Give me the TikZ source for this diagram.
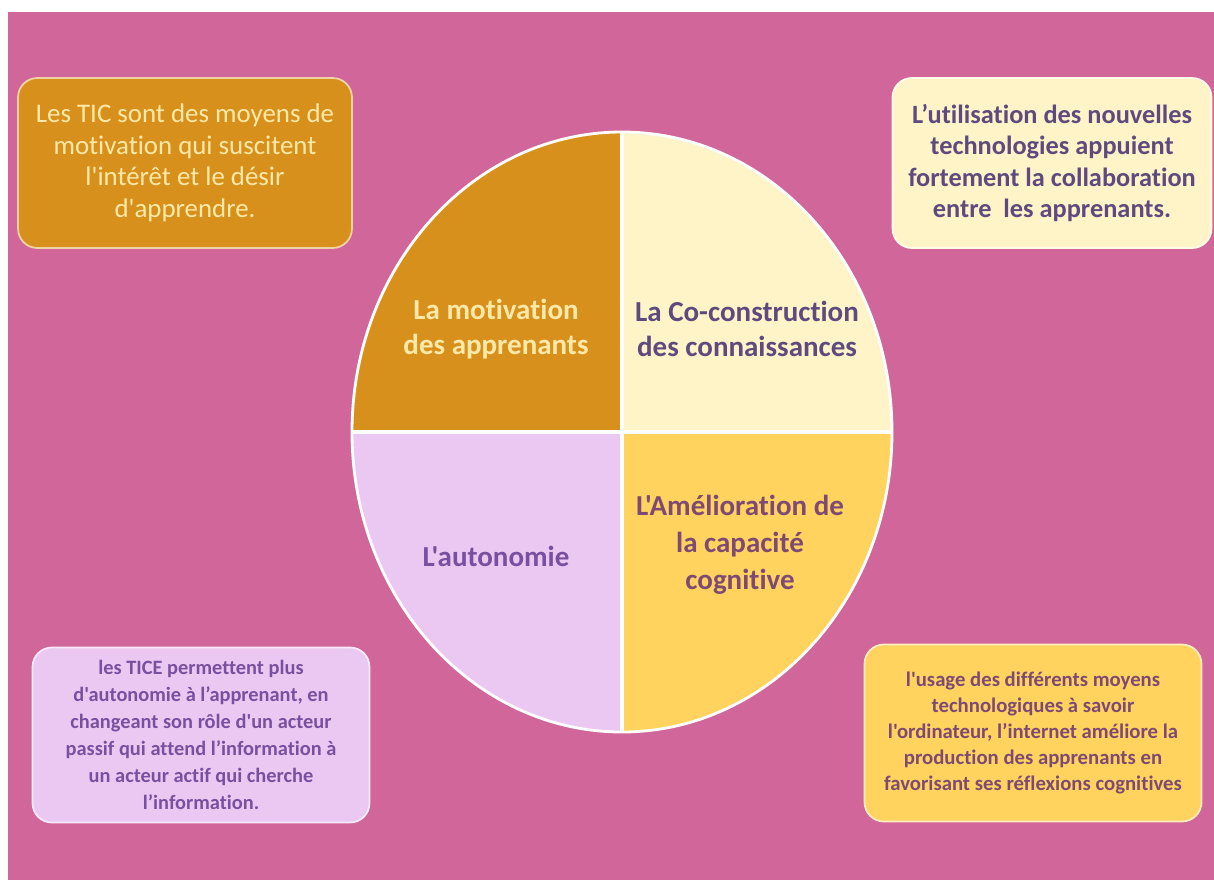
\documentclass[tikz,border=0pt]{standalone}
\usepackage{fontspec}
\setmainfont{Carlito}[Ligatures={TeXOff,CommonOff}]
\usetikzlibrary{positioning}
\definecolor{fond}{HTML}{D1669A}
\definecolor{motiv}{HTML}{D8901C}
\definecolor{creme}{HTML}{FFF4C8}
\definecolor{lilas}{HTML}{EAC8F2}
\definecolor{jaune}{HTML}{FFD35E}
\definecolor{cremetxt}{HTML}{FFE9A8}
\definecolor{violet}{HTML}{5E4A7E}
\definecolor{mauve}{HTML}{7B4FA0}
\definecolor{prune}{HTML}{7E4A74}

\begin{document}
\begin{tikzpicture}[x=0.02cm,y=-0.02cm,
		bulle/.style={rounded corners=11pt, draw=#1!40!white, line width=1pt, align=center, inner sep=4pt},
		quart/.style={align=center, font=\fontsize{16.5}{19.5}\selectfont\bfseries}]
	\useasboundingbox (0,0) rectangle (1214,886);
	\fill[white] (0,0) rectangle (1214,886);
	\fill[fond] (8,12) rectangle (1214,880);
	%
	\begin{scope}
		\clip (622,432) ellipse [x radius=270, y radius=300];
		\fill[motiv] (352,132) rectangle (622,432);
		\fill[creme] (622,132) rectangle (892,432);
		\fill[lilas] (352,432) rectangle (622,732);
		\fill[jaune] (622,432) rectangle (892,732);
	\end{scope}
	\draw[white, line width=1.6pt] (622,432) ellipse [x radius=270, y radius=300];
	\draw[white, line width=2.2pt] (622,132)--(622,732);
	\draw[white, line width=2.2pt] (352,432)--(892,432);
	%
	\node[quart, text=cremetxt] (qmotiv) at (496,329) {La motivation\\des apprenants};
	\node[quart, text=violet] (qcoco) at (747,329) {La Co-construction\\des connaissances};
	\node[quart, text=mauve] (qauto) at (496,556) {L'autonomie};
	\node[quart, text=prune, font=\fontsize{16.5}{21}\selectfont\bfseries] (qcogn) at (740,545) {L'Amélioration de\\la capacité\\cognitive};
	%
	\node[bulle=motiv, fill=motiv, text=cremetxt, minimum width=6.68cm, minimum height=3.4cm,
		font=\fontsize{15.3}{18}\selectfont] (btic) at (185,163)
		{Les TIC sont des moyens de\\motivation qui suscitent\\l'intérêt et le désir\\d'apprendre.};
	\node[bulle=creme, fill=creme, text=violet, minimum width=6.38cm, minimum height=3.4cm,
		font=\fontsize{15}{18}\selectfont\bfseries] (bcollab) at (1052,163)
		{L’utilisation des nouvelles\\technologies appuient\\fortement la collaboration\\entre\ \ les apprenants.};
	\node[bulle=lilas, fill=lilas, text=mauve, minimum width=6.74cm, minimum height=3.5cm,
		font=\fontsize{11.6}{15.3}\selectfont\bfseries] (btice) at (201,735)
		{les TICE permettent plus\\d'autonomie à l’apprenant, en\\changeant son rôle d'un acteur\\passif qui attend l’information à\\un acteur actif qui cherche\\l’information.};
	\node[bulle=jaune, fill=jaune, text=prune, minimum width=6.74cm, minimum height=3.54cm,
		font=\fontsize{11.8}{14.9}\selectfont\bfseries] (busage) at (1033,733)
		{l'usage des différents moyens\\technologiques à savoir\\l'ordinateur, l’internet améliore la\\production des apprenants en\\favorisant ses réflexions cognitives};
\end{tikzpicture}
\end{document}
